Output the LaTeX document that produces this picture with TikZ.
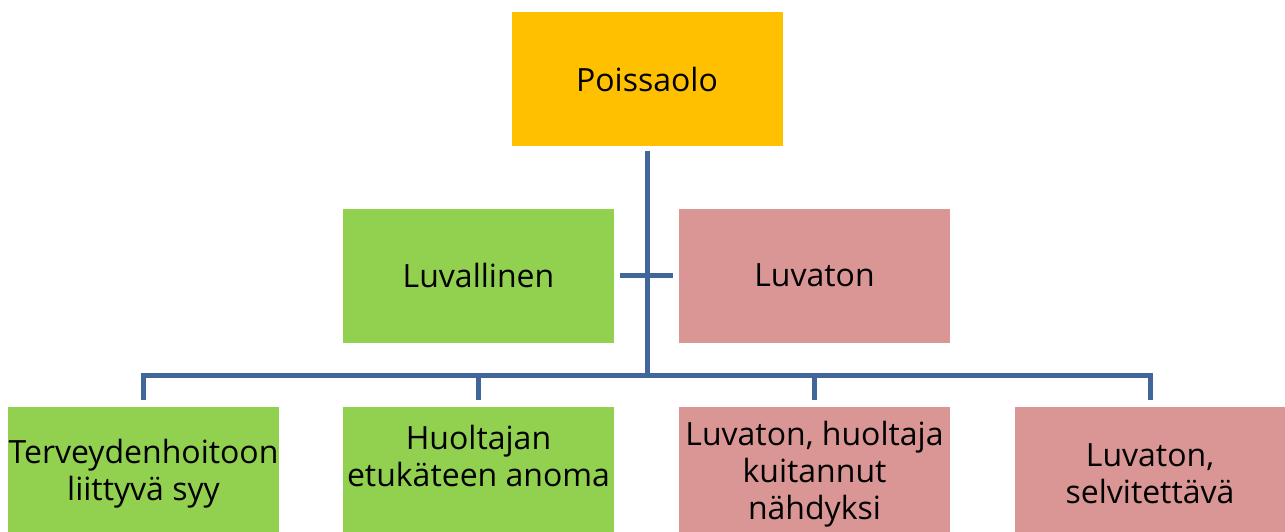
\documentclass[tikz,border=0pt]{standalone}
\usepackage{fontspec}
\setmainfont{Open Sans}
\usetikzlibrary{positioning}

\definecolor{absgold}{HTML}{FFC000}
\definecolor{absgreen}{HTML}{92D050}
\definecolor{absred}{HTML}{D99694}
\definecolor{absline}{HTML}{41679A}

\tikzset{
    box/.style={rectangle, minimum width=271pt, minimum height=134pt,
                inner sep=0pt, align=center, font=\fontsize{32}{37}\selectfont},
    link/.style={draw=absline, line width=5pt}
}

\begin{document}
\begin{tikzpicture}[x=1pt, y=-1pt]
        \clip (0,0) rectangle (1285,531);

        \node[box, fill=absgold] (top) at (647,79) {Poissaolo};
        \node[box, fill=absgreen] (ok) at (478.5,275.5) {Luvallinen};
        \node[box, fill=absred] (notok) at (814.5,275.5) {Luvaton};

        \node[box, fill=absgreen] (health) at (143.5,474) {Terveydenhoitoon\\liittyvä syy};
        \node[box, fill=absgreen] (asked) at (478.5,474) {Huoltajan\\etukäteen anoma\\\mbox{}};
        \node[box, fill=absred] (seen) at (814.5,474) {Luvaton, huoltaja\\kuitannut\\nähdyksi};
        \node[box, fill=absred] (open) at (1150,474) {Luvaton,\\selvitettävä};

        \coordinate (bus) at (646,375);

        % trunk and cross bar
        \draw[link, shorten <=5pt] (top.south) -- (top.south |- bus);
        \draw[link, shorten <=6pt, shorten >=6pt] (ok.east) -- (notok.west);

        % bus with drops
        \draw[link, shorten <=7pt, shorten >=7pt] (health.north) -- (health.north |- bus)
            -- (open.north |- bus) -- (open.north);
        \draw[link, shorten >=7pt] (asked.north |- bus) -- (asked.north);
        \draw[link, shorten >=7pt] (seen.north |- bus) -- (seen.north);

    \end{tikzpicture}
\end{document}
